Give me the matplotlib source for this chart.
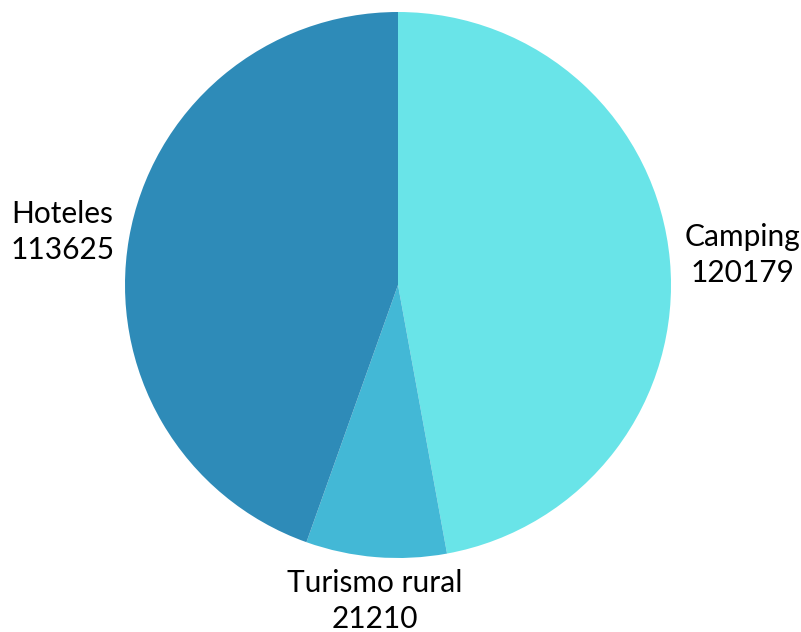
import numpy as np
import matplotlib
matplotlib.use("Agg")
import matplotlib.pyplot as plt

labels = ["Camping", "Turismo rural", "Hoteles"]
values = [120179, 21210, 113625]
colors = ["#69E4E8", "#43B8D6", "#2E8BB8"]

plt.rcParams['font.family'] = ['Lato', 'DejaVu Sans']

fig = plt.figure(figsize=(8.01, 6.32), dpi=100)
ax = fig.add_axes([125 / 801, (632 - 285 - 273) / 632, 546 / 801, 546 / 632])

wedges, _ = ax.pie(values, colors=colors, startangle=90, counterclock=False,
                   radius=1.0, wedgeprops=dict(linewidth=0))
ax.set_xlim(-1, 1)
ax.set_ylim(-1, 1)
ax.set_aspect('equal')
ax.axis('off')

# labels outside the slices
for w, lab, val in zip(wedges, labels, values):
    ang = np.deg2rad((w.theta1 + w.theta2) / 2)
    c, s = np.cos(ang), np.sin(ang)
    if abs(c) < 0.3:
        r = 1.045
        ha = 'center'
        va = 'top' if s < 0 else 'bottom'
        dy = 0
    else:
        r = 1.055
        ha = 'left' if c > 0 else 'right'
        va = 'center'
        dy = 0.015
    ax.text(r * c, r * s + dy, f"{lab}\n{val}", ha=ha, va=va, fontsize=21.5,
            color='black', linespacing=1.32, multialignment='center',
            clip_on=False)

fig.savefig("out.png", dpi=100)
